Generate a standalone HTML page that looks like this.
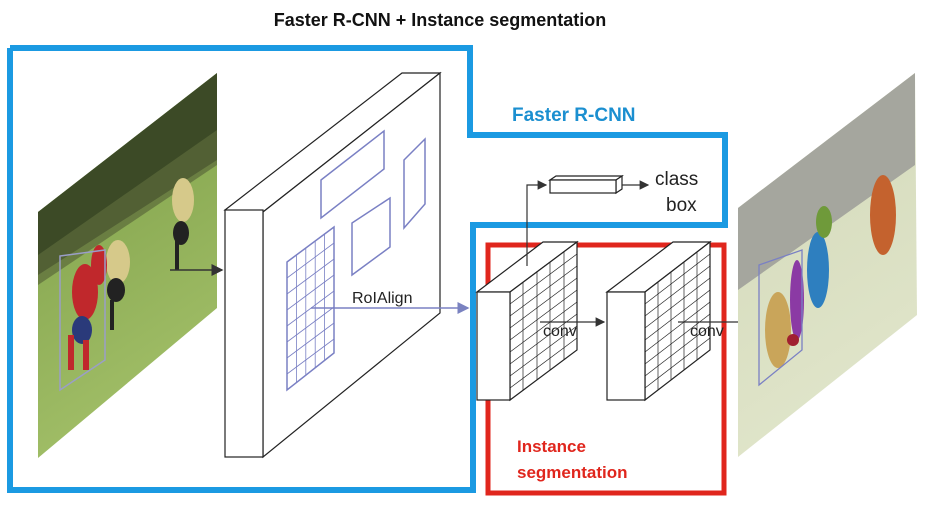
<!DOCTYPE html>
<html><head><meta charset="utf-8"><style>
html,body{margin:0;padding:0;background:#fff;}
svg{display:block;font-family:"Liberation Sans",sans-serif;}
</style></head><body>
<svg width="927" height="514" viewBox="0 0 927 514">
<defs>
<linearGradient id="gl" x1="0" y1="0" x2="0.3" y2="1">
<stop offset="0" stop-color="#7a9c45"/><stop offset="1" stop-color="#a2bf68"/></linearGradient>
<linearGradient id="gr" x1="0" y1="0" x2="0.3" y2="1">
<stop offset="0" stop-color="#d2d8b8"/><stop offset="1" stop-color="#e0e5ca"/></linearGradient>
<marker id="ah" markerWidth="8" markerHeight="8" refX="7" refY="4" orient="auto"><path d="M0,0 L8,4 L0,8 z" fill="#333"/></marker>
<marker id="ahb" markerWidth="8" markerHeight="8" refX="7" refY="4" orient="auto"><path d="M0,0 L8,4 L0,8 z" fill="#7a82c0"/></marker>
</defs>

<text x="440" y="26" text-anchor="middle" font-size="18" font-weight="bold" fill="#111">Faster R-CNN + Instance segmentation</text>

<!-- left image -->
<g>
<polygon points="38,212 217,73 217,308 38,458" fill="url(#gl)"/>
<polygon points="38,212 217,73 217,160 38,275" fill="#3c4a26"/>
<polygon points="38,255 217,130 217,165 38,285" fill="#5b6a3a" opacity="0.7"/>
<g fill="#d6c98a"><ellipse cx="118" cy="262" rx="12" ry="22"/><ellipse cx="183" cy="200" rx="11" ry="22"/></g>
<g fill="#222"><ellipse cx="116" cy="290" rx="9" ry="12"/><ellipse cx="181" cy="233" rx="8" ry="12"/><rect x="110" y="300" width="4" height="30"/><rect x="175" y="240" width="4" height="30"/></g>
<g fill="#c0282c"><ellipse cx="85" cy="292" rx="13" ry="28"/><ellipse cx="99" cy="265" rx="8" ry="20"/></g>
<g fill="#2a3a7a"><ellipse cx="82" cy="330" rx="10" ry="14"/></g>
<g fill="#c0282c"><rect x="68" y="335" width="6" height="35"/><rect x="83" y="340" width="6" height="30"/></g>
<polygon points="60,256 105,250 105,360 60,390" fill="none" stroke="#9a9ec8" stroke-width="1.5"/>
</g>
<line x1="170" y1="270" x2="222" y2="270" stroke="#333" stroke-width="1.5" marker-end="url(#ah)"/>

<!-- blue outline -->
<polyline points="10,48 470,48 470,135 725,135 725,225 473,225 473,490 10,490 10,48" fill="none" stroke="#1b9ae2" stroke-width="6"/>
<text x="512" y="121" font-size="19" font-weight="bold" fill="#1b8fd0">Faster R-CNN</text>

<!-- backbone block -->
<g stroke="#222" stroke-width="1.2" fill="#fff">
<polygon points="225,210 402,73 440,73 263,212"/>
<polygon points="263,212 440,73 440,313 263,457"/>
<rect x="225" y="210" width="38" height="247"/>
</g>
<g fill="none" stroke="#7a80c4" stroke-width="1.5">
<polygon points="321,180 384,131 384,169 321,218"/>
<polygon points="404,160 425,139 425,204 404,228"/>
<polygon points="352,223 390,198 390,247 352,275"/>
<polygon points="287,262 334,227 334,353 287,390"/>
<g stroke-width="0.8">
<line x1="296.4" y1="255" x2="296.4" y2="382.6"/><line x1="305.8" y1="248" x2="305.8" y2="375.2"/><line x1="315.2" y1="241" x2="315.2" y2="367.8"/><line x1="324.6" y1="234" x2="324.6" y2="360.4"/>
<line x1="287" y1="278" x2="334" y2="243"/><line x1="287" y1="294" x2="334" y2="259"/><line x1="287" y1="310" x2="334" y2="275"/><line x1="287" y1="326" x2="334" y2="291"/><line x1="287" y1="342" x2="334" y2="307"/><line x1="287" y1="358" x2="334" y2="323"/><line x1="287" y1="374" x2="334" y2="339"/>
</g></g>
<text x="352" y="303" font-size="16" fill="#222">RoIAlign</text>
<line x1="311" y1="308" x2="468" y2="308" stroke="#7a80c4" stroke-width="1.5" marker-end="url(#ahb)"/>

<!-- red outline -->
<rect x="488" y="245" width="236" height="248" fill="none" stroke="#e0261d" stroke-width="5"/>
<text x="517" y="452" font-size="17" font-weight="bold" fill="#e0261d"><tspan x="517">Instance</tspan><tspan x="517" dy="26">segmentation</tspan></text>

<!-- head block A -->
<g stroke="#222" stroke-width="1.2" fill="#fff">
<polygon points="477,292 543,242 577,242 510,292"/>
<polygon points="510,292 577,242 577,350 510,400"/>
<rect x="477" y="292" width="33" height="108"/>
<g fill="none" stroke-width="0.7">
<line x1="523" y1="282" x2="523" y2="390"/><line x1="537" y1="272" x2="537" y2="380"/><line x1="550" y1="262" x2="550" y2="370"/><line x1="564" y1="252" x2="564" y2="360"/>
<line x1="510" y1="304" x2="577" y2="254"/><line x1="510" y1="316" x2="577" y2="266"/><line x1="510" y1="328" x2="577" y2="278"/><line x1="510" y1="340" x2="577" y2="290"/><line x1="510" y1="352" x2="577" y2="302"/><line x1="510" y1="364" x2="577" y2="314"/><line x1="510" y1="376" x2="577" y2="326"/><line x1="510" y1="388" x2="577" y2="338"/>
</g></g>
<polyline points="527,266 527,185 546,185" fill="none" stroke="#333" stroke-width="1.2" marker-end="url(#ah)"/>
<g stroke="#222" stroke-width="1.2" fill="#fff">
<polygon points="550,180 556,176 622,176 616,180"/>
<polygon points="616,180 622,176 622,189 616,193"/>
<rect x="550" y="180" width="66" height="13"/>
</g>
<line x1="622" y1="185" x2="648" y2="185" stroke="#333" stroke-width="1.2" marker-end="url(#ah)"/>
<text x="655" y="185" font-size="19" fill="#222">class</text>
<text x="666" y="211" font-size="19" fill="#222">box</text>

<!-- head block B -->
<g stroke="#222" stroke-width="1.2" fill="#fff">
<polygon points="607,292 673,242 710,242 645,292"/>
<polygon points="645,292 710,242 710,350 645,400"/>
<rect x="607" y="292" width="38" height="108"/>
<g fill="none" stroke-width="0.7">
<line x1="658" y1="282" x2="658" y2="390"/><line x1="671" y1="272" x2="671" y2="380"/><line x1="684" y1="262" x2="684" y2="370"/><line x1="697" y1="252" x2="697" y2="360"/>
<line x1="645" y1="304" x2="710" y2="254"/><line x1="645" y1="316" x2="710" y2="266"/><line x1="645" y1="328" x2="710" y2="278"/><line x1="645" y1="340" x2="710" y2="290"/><line x1="645" y1="352" x2="710" y2="302"/><line x1="645" y1="364" x2="710" y2="314"/><line x1="645" y1="376" x2="710" y2="326"/><line x1="645" y1="388" x2="710" y2="338"/>
</g></g>
<line x1="540" y1="322" x2="604" y2="322" stroke="#333" stroke-width="1.2" marker-end="url(#ah)"/>
<text x="543" y="336" font-size="16" fill="#222">conv</text>
<line x1="678" y1="322" x2="754" y2="322" stroke="#333" stroke-width="1.2" marker-end="url(#ah)"/>
<text x="690" y="336" font-size="16" fill="#222">conv</text>

<!-- right image -->
<g>
<polygon points="738,208 915,73 917,315 738,457" fill="url(#gr)"/>
<polygon points="738,208 915,73 915,165 738,290" fill="#a5a69e"/>
<g><ellipse cx="778" cy="330" rx="13" ry="38" fill="#c9a55a"/><ellipse cx="797" cy="300" rx="7" ry="40" fill="#8b3aa4"/><ellipse cx="818" cy="270" rx="11" ry="38" fill="#2e7fbf"/><ellipse cx="824" cy="222" rx="8" ry="16" fill="#6f9a3a"/><ellipse cx="883" cy="215" rx="13" ry="40" fill="#c4622e"/><ellipse cx="793" cy="340" rx="6" ry="6" fill="#a02030"/></g>
<polygon points="759,265 802,250 802,350 759,385" fill="none" stroke="#7a80c4" stroke-width="1.3"/>
</g>
</svg>
</body></html>
